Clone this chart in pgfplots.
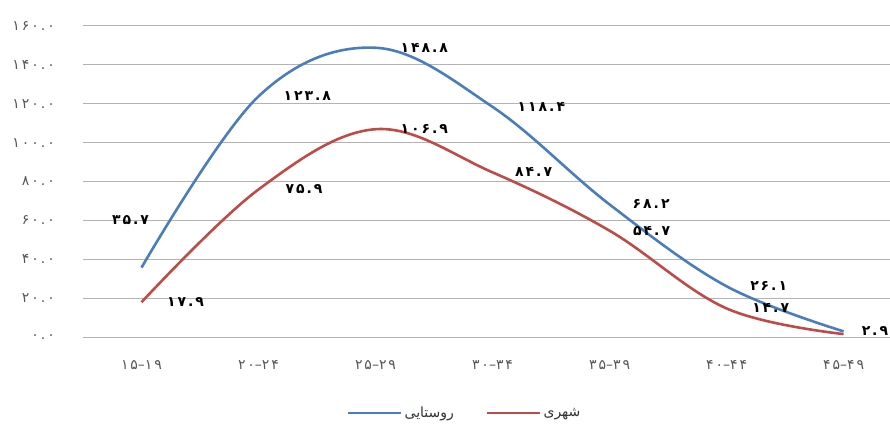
\documentclass[border=0pt]{standalone}
\usepackage{fontspec}
\usepackage{pgfplots}
\pgfplotsset{compat=1.18}
\usepackage{pgfplotstable}
\TeXXeTstate=1
\newfontfamily\arabicfont[Script=Arabic]{DejaVu Sans}
\newfontfamily\numfont[Script=Arabic, LetterSpace=14]{DejaVu Sans}

\definecolor{rural}{HTML}{4A7EBB}
\definecolor{urban}{HTML}{BE4B48}
\definecolor{gridgray}{HTML}{B3B3B3}
\definecolor{ticktext}{HTML}{555555}

% Persian digits for a plain decimal number such as 148.8
\def\fanum#1{\expandafter\fanumloop#1\relax}
\def\fanumloop#1{\ifx\relax#1\else\fadig#1\expandafter\fanumloop\fi}
\def\fadig#1{\if.#1.\else\ifcase#1 ۰\or ۱\or ۲\or ۳\or ۴\or ۵\or ۶\or ۷\or ۸\or ۹\fi\fi}
% age range, written left to right
\newcommand\rng[2]{\mbox{\fanum{#1}}\mbox{–}\mbox{\fanum{#2}}}

\newcommand\tickfont{\numfont\fontsize{14}{16}\selectfont}
\newcommand\labelfont{\numfont\bfseries\fontsize{14}{16}\selectfont}

% x = age group index, y = rate, dx/dy = label offset (pt)
\pgfplotstableread{
x y     dx    dy
0 35.7  -29.5 47.6
1 123.8 25    0
2 148.8 25    0
3 118.4 25    0
4 68.2  23    0
5 26.1  23.5  0
6 2.9   18    0
}\ruraldata

\pgfplotstableread{
x y     dx    dy
0 17.9  25.5  0
1 75.9  27    0
2 106.9 25    0
3 84.7  22.5  0
4 54.7  23.5  0
5 14.7  25.5  0
6 1.5   23.5  0
}\urbandata

\pgfplotsset{
  value labels/.style={
    draw=none, mark=none, forget plot,
    point meta=explicit symbolic,
    nodes near coords={\fanum{\pgfplotspointmeta}},
    nodes near coords align={horizontal},
    visualization depends on={\thisrow{dx} \as \dx},
    visualization depends on={\thisrow{dy} \as \dy},
    nodes near coords style={anchor=west, inner sep=0pt,
      xshift=\dx, yshift=\dy, font=\labelfont, text=black},
  },
}

\begin{document}
\begin{tikzpicture}
\useasboundingbox (0,0) rectangle (890pt,423pt);
\clip (0,0) rectangle (890pt,423pt);
\begin{axis}[
  at={(83pt,86pt)}, anchor=south west,
  scale only axis, width=807pt, height=311pt,
  clip=false,
  xmin=-0.5, xmax=6.397,
  ymin=0, ymax=160,
  axis line style={draw=none},
  major tick length=0pt,
  ytick={0,20,...,160},
  yticklabels={\fanum{0.0},\fanum{20.0},\fanum{40.0},\fanum{60.0},\fanum{80.0},
    \fanum{100.0},\fanum{120.0},\fanum{140.0},\fanum{160.0}},
  xtick={0,...,6},
  xticklabels={\rng{15}{19},\rng{20}{24},\rng{25}{29},\rng{30}{34},
    \rng{35}{39},\rng{40}{44},\rng{45}{49}},
  ymajorgrids,
  grid style={draw=gridgray, line width=1pt},
  yticklabel style={font=\tickfont, text=ticktext, anchor=east, inner sep=0pt, xshift=-28pt},
  xticklabel style={font=\tickfont, text=ticktext, anchor=center, inner sep=0pt, yshift=-28pt},
  legend columns=2,
  legend style={at={(0.473,-0.244)}, anchor=center, draw=none, fill=none,
    font=\arabicfont\fontsize{14}{16}\selectfont, text=black!80,
    /tikz/every even column/.append style={column sep=30pt}},
  legend cell align=left,
  legend image code/.code={\draw[#1] (0pt,0pt) -- (53pt,0pt);},
]
\addplot[rural, line width=2.6pt, smooth, tension=0.6] table[x=x, y=y]{\ruraldata};
\addlegendentry{\beginR روستایی\endR}
\addplot[urban, line width=2.6pt, smooth, tension=0.6] table[x=x, y=y]{\urbandata};
\addlegendentry{\beginR شهری\endR}

\addplot[value labels] table[x=x, y=y, meta=y]{\ruraldata};
\addplot[value labels, skip coords between index={6}{7}] table[x=x, y=y, meta=y]{\urbandata};
\end{axis}
\end{tikzpicture}
\end{document}
